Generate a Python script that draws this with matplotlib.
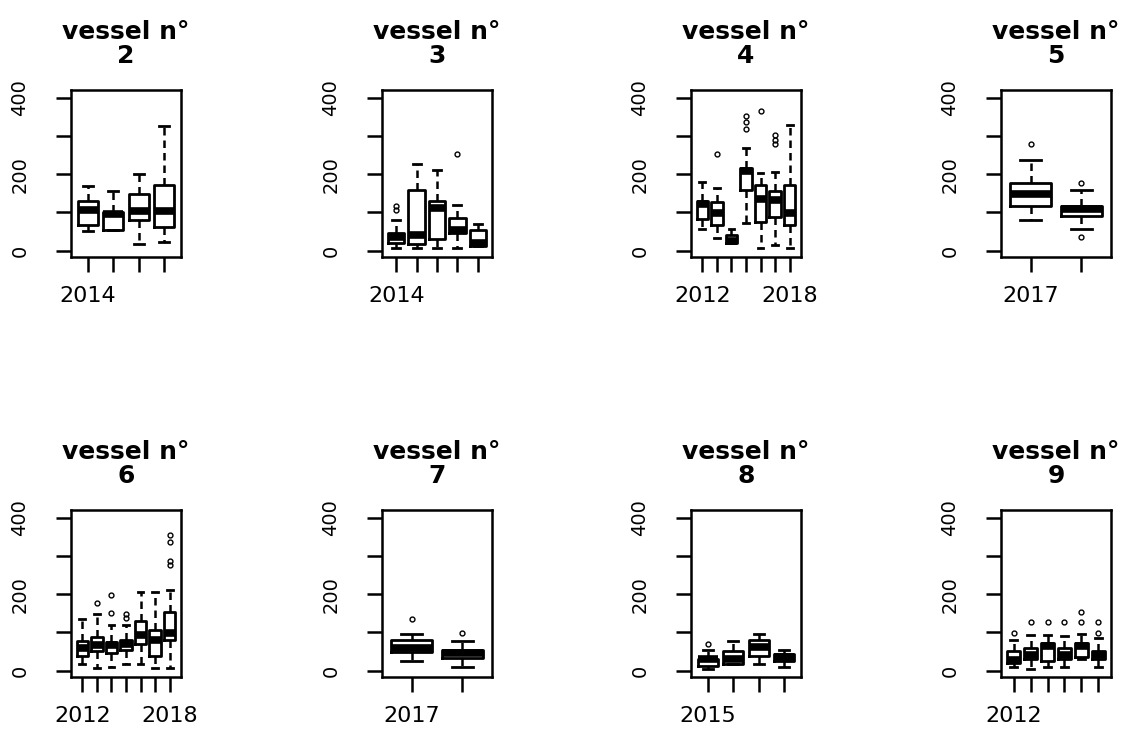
import numpy as np
import matplotlib.pyplot as plt

# each box: (lower whisker, Q1, median, Q3, upper whisker)
v2_labels = ['2014', '', '', '']
v2_stats = [(52, 66, 105, 131, 169), (55, 55, 97, 102, 157),
            (16, 81, 103, 148, 201), (23, 61, 103, 172, 326)]
v2_out = [[], [], [], []]

v3_labels = ['2014', '', '', '', '']
v3_stats = [(7, 20, 35, 46, 81), (7, 16, 40, 160, 228), (7, 31, 112, 131, 210),
            (7, 46, 55, 86, 120), (13, 13, 20, 55, 70)]
v3_out = [[105, 118], [], [], [252], []]

v4_labels = ['2012', '', '', '', '', '', '2018']
v4_stats = [(56, 83, 123, 131, 179), (32, 66, 98, 127, 164), (19, 19, 24, 41, 56),
            (72, 158, 208, 217, 268), (6, 74, 135, 171, 203), (15, 89, 133, 155, 206),
            (6, 68, 98, 171, 328)]
v4_out = [[], [252], [], [318, 338, 352], [366], [279, 290, 302], []]

v5_labels = ['2017', '']
v5_stats = [(79, 117, 148, 177, 238), (56, 90, 110, 118, 159)]
v5_out = [[280], [35, 178]]

v6_labels = ['2012', '', '', '', '', '', '2018']
v6_stats = [(16, 38, 58, 77, 134), (7, 51, 68, 87, 148), (9, 46, 66, 75, 119),
            (16, 55, 70, 81, 119), (17, 70, 94, 129, 206), (7, 38, 81, 105, 206),
            (7, 81, 99, 153, 212)]
v6_out = [[], [176], [151, 199], [138, 148], [], [], [276, 286, 337, 356]]

v7_labels = ['2017', '']
v7_stats = [(26, 48, 59, 79, 96), (9, 32, 47, 55, 77)]
v7_out = [[134], [99]]

v8_labels = ['2015', '', '', '']
v8_stats = [(4, 11, 29, 31, 55), (16, 16, 31, 51, 77), (16, 38, 61, 79, 96),
            (9, 26, 35, 44, 55)]
v8_out = [[70], [], [], []]

v9_labels = ['2012', '', '', '', '', '']
v9_stats = [(9, 20, 27, 51, 79), (3, 31, 42, 59, 94), (9, 24, 64, 71, 94),
            (9, 29, 42, 59, 90), (31, 36, 64, 71, 96), (9, 29, 42, 51, 84)]
v9_out = [[99], [127], [127], [127], [127, 153], [99, 127]]

vessels = [
    (2, v2_labels, v2_stats, v2_out),
    (3, v3_labels, v3_stats, v3_out),
    (4, v4_labels, v4_stats, v4_out),
    (5, v5_labels, v5_stats, v5_out),
    (6, v6_labels, v6_stats, v6_out),
    (7, v7_labels, v7_stats, v7_out),
    (8, v8_labels, v8_stats, v8_out),
    (9, v9_labels, v9_stats, v9_out),
]

y_ticks = [0, 100, 200, 300, 400]
y_ticklabels = ['0', '', '200', '', '400']


def draw_vessel(ax, number, labels, stats, outliers):
    """Draw one R-style boxplot panel"""
    bstats = []
    for (lo, q1, med, q3, hi), out in zip(stats, outliers):
        bstats.append(dict(whislo=lo, q1=q1, med=med, q3=q3, whishi=hi, fliers=out))
    n = len(stats)
    ax.bxp(bstats, positions=range(1, n + 1), widths=0.8, capwidths=0.4,
           manage_ticks=False,
           boxprops=dict(color='black', linewidth=2.0),
           medianprops=dict(color='black', linewidth=5.5, solid_capstyle='butt'),
           whiskerprops=dict(color='black', linewidth=1.8, linestyle=(0, (3, 2))),
           capprops=dict(color='black', linewidth=2.0),
           flierprops=dict(marker='o', markersize=3.5, markerfacecolor='none',
                           markeredgecolor='black', markeredgewidth=1.0))

    ax.set_xlim(0.5 - 0.04 * n, n + 0.5 + 0.04 * n)
    ax.set_ylim(-17, 421)
    ax.set_xticks(range(1, n + 1))
    ax.set_xticklabels(labels, fontsize=16)
    ax.set_yticks(y_ticks)
    ax.set_yticklabels(y_ticklabels, fontsize=14, rotation=90, va='center')
    ax.tick_params(axis='both', direction='out', length=11, width=1.8)
    ax.tick_params(axis='x', pad=10)
    ax.tick_params(axis='y', pad=19)
    for sp in ax.spines.values():
        sp.set_linewidth(1.8)

    ax.annotate(f"vessel n°\n{number}", xy=(0.5, 1), xycoords='axes fraction',
                xytext=(0, 16), textcoords='offset points', ha='center', va='bottom',
                fontsize=18, fontweight='bold', linespacing=1.0)


W, H = 1136, 731
fig = plt.figure(figsize=(W / 100, H / 100), dpi=100)

col_left = [71, 382, 691, 1001]
row_top = [90, 510]
ax_w, ax_h = 110, 167

for i, (number, labels, stats, out) in enumerate(vessels):
    r, c = divmod(i, 4)
    left = col_left[c] / W
    bottom = (H - row_top[r] - ax_h) / H
    ax = fig.add_axes([left, bottom, ax_w / W, ax_h / H])
    draw_vessel(ax, number, labels, stats, out)

plt.savefig('out.png', dpi=100)
plt.close()
